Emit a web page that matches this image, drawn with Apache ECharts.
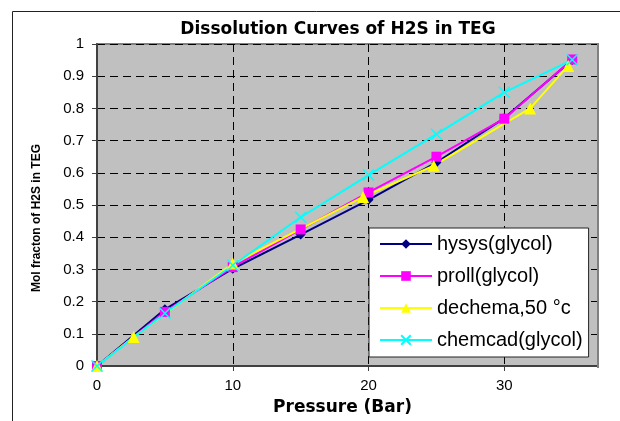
<!DOCTYPE html>
<html>
<head>
<meta charset="utf-8">
<script src="https://cdn.jsdelivr.net/npm/echarts@6/dist/echarts.min.js"></script>
<style>
  html, body { margin: 0; padding: 0; background: #fff; }
  #chart { width: 620px; height: 421px; }
</style>
</head>
<body>
<div id="chart"></div>
<script>
  // pressure (bar) / mol fraction
  var hysysX = [0, 5, 10, 15, 20, 25, 30, 35];
  var hysysY = [0, 0.176, 0.302, 0.408, 0.516, 0.632, 0.77, 0.95];
  var prollX = [0, 5, 10, 15, 20, 25, 30, 35];
  var prollY = [0, 0.168, 0.307, 0.424, 0.539, 0.65, 0.768, 0.952];
  var dechemaX = [0, 2.7, 10, 19.6, 24.8, 31.9, 34.7];
  var dechemaY = [0, 0.09, 0.318, 0.525, 0.622, 0.80, 0.932];
  var chemcadX = [0, 5, 10, 15, 20, 25, 30, 35];
  var chemcadY = [0, 0.164, 0.313, 0.462, 0.593, 0.72, 0.85, 0.951];
  var seriesNames = ['hysys(glycol)', 'proll(glycol)', 'dechema,50 °c', 'chemcad(glycol)'];

  function pairs(xs, ys) {
    var out = [];
    for (var i = 0; i < xs.length; i++) {
      out.push([xs[i], ys[i]]);
    }
    return out;
  }

  var myChart = echarts.init(document.getElementById('chart'));
  var font = 'Liberation Sans, Arial, sans-serif';

  var option = {
    animation: false,
    backgroundColor: '#fff',
    title: {
      text: 'Dissolution Curves of H2S in TEG',
      left: 333,
      top: 16,
      textAlign: 'center',
      textStyle: { fontFamily: 'DejaVu Sans', fontWeight: 'bold', fontSize: 17, color: '#000' }
    },
    grid: {
      left: 97, top: 44, right: 22, bottom: 53,
      show: true,
      backgroundColor: '#c0c0c0',
      borderColor: '#808080',
      borderWidth: 2
    },
    legend: {
      orient: 'vertical',
      left: 369,
      top: 228,
      backgroundColor: '#fff',
      borderColor: '#222',
      borderWidth: 1,
      padding: [6, 6, 7, 10],
      itemWidth: 52,
      itemHeight: 12,
      itemGap: 12,
      textStyle: { fontFamily: font, fontSize: 20, color: '#000' },
      data: seriesNames
    },
    xAxis: {
      type: 'value',
      min: 0,
      max: 36.9,
      interval: 10,
      name: 'Pressure (Bar)',
      nameLocation: 'middle',
      nameGap: 33,
      nameTextStyle: { fontFamily: 'DejaVu Sans', fontWeight: 'bold', fontSize: 17, color: '#000', padding: [0, 10, 0, 0] },
      axisLine: { show: true, lineStyle: { color: '#404040', width: 2 } },
      axisTick: { show: true, length: 5, lineStyle: { color: '#404040' } },
      axisLabel: { fontFamily: font, fontSize: 15, color: '#000', margin: 12, showMaxLabel: false },
      splitLine: { show: true, lineStyle: { color: '#000', type: [8, 5], width: 1 } }
    },
    yAxis: {
      type: 'value',
      min: 0,
      max: 1,
      interval: 0.1,
      axisLine: { show: true, lineStyle: { color: '#404040', width: 2 } },
      axisTick: { show: true, length: 5, lineStyle: { color: '#404040' } },
      axisLabel: { fontFamily: font, fontSize: 15, color: '#000', margin: 13 },
      splitLine: { show: true, lineStyle: { color: '#000', type: [8, 5], width: 1 } }
    },
    graphic: [
      { type: 'rect', z: 100, shape: { x: 12.5, y: 11.5, width: 700, height: 500 },
        style: { fill: 'none', stroke: '#222', lineWidth: 1 } },
      { type: 'line', z: 100, shape: { x1: 598, y1: 44, x2: 598, y2: 368 },
        style: { stroke: '#808080', lineWidth: 2 } },
      // y axis title sits a little below the plot centre in the original
      { type: 'text', z: 100, x: 37, y: 218, rotation: Math.PI / 2,
        style: { text: 'Mol fracton of H2S in TEG', fill: '#000',
          font: 'bold 12px Liberation Sans, Arial, sans-serif',
          textAlign: 'center', textVerticalAlign: 'middle' } }
    ],
    series: [
      {
        name: seriesNames[0], type: 'line', data: pairs(hysysX, hysysY),
        symbol: 'diamond', symbolSize: 10,
        lineStyle: { color: '#000080', width: 2 },
        itemStyle: { color: '#000080' }
      },
      {
        name: seriesNames[1], type: 'line', data: pairs(prollX, prollY),
        symbol: 'rect', symbolSize: 10,
        lineStyle: { color: '#ff00ff', width: 2 },
        itemStyle: { color: '#ff00ff' }
      },
      {
        name: seriesNames[2], type: 'line', data: pairs(dechemaX, dechemaY),
        symbol: 'triangle', symbolSize: 12,
        lineStyle: { color: '#ffff00', width: 2 },
        itemStyle: { color: '#ffff00' }
      },
      {
        name: seriesNames[3], type: 'line', data: pairs(chemcadX, chemcadY),
        symbol: 'path://M0,0L10,10M10,0L0,10', symbolSize: 11,
        lineStyle: { color: '#00ffff', width: 2 },
        itemStyle: { color: 'rgba(0,0,0,0)', borderColor: '#00ffff', borderWidth: 1.5 }
      }
    ]
  };

  myChart.setOption(option);
</script>
</body>
</html>
